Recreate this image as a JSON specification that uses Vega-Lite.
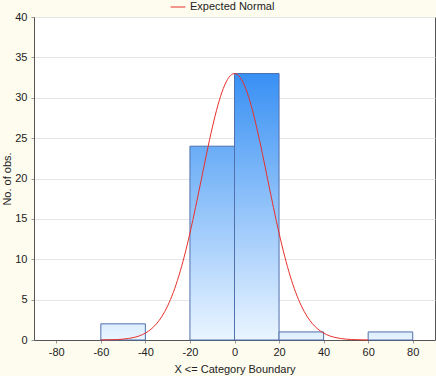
{
  "$schema": "https://vega.github.io/schema/vega-lite/v6.json",
  "autosize": "none",
  "width": 401,
  "height": 323,
  "padding": {"left": 34, "top": 17, "right": 1, "bottom": 36},
  "background": "#FEFCEF",
  "datasets": {
    "bins": [
      {"bin_start": -60, "bin_end": -40, "count": 2},
      {"bin_start": -20, "bin_end": 0, "count": 24},
      {"bin_start": 0, "bin_end": 20, "count": 33},
      {"bin_start": 20, "bin_end": 40, "count": 1},
      {"bin_start": 60, "bin_end": 80, "count": 1}
    ],
    "curve": [
      {"x": -60, "y": 0.009, "series": "Expected Normal"},
      {"x": -55, "y": 0.033, "series": "Expected Normal"},
      {"x": -50, "y": 0.11, "series": "Expected Normal"},
      {"x": -47.5, "y": 0.191, "series": "Expected Normal"},
      {"x": -45, "y": 0.324, "series": "Expected Normal"},
      {"x": -42.5, "y": 0.534, "series": "Expected Normal"},
      {"x": -40, "y": 0.855, "series": "Expected Normal"},
      {"x": -37.5, "y": 1.33, "series": "Expected Normal"},
      {"x": -35, "y": 2.01, "series": "Expected Normal"},
      {"x": -32.5, "y": 2.96, "series": "Expected Normal"},
      {"x": -30, "y": 4.23, "series": "Expected Normal"},
      {"x": -27.5, "y": 5.87, "series": "Expected Normal"},
      {"x": -25, "y": 7.92, "series": "Expected Normal"},
      {"x": -22.5, "y": 10.39, "series": "Expected Normal"},
      {"x": -20, "y": 13.24, "series": "Expected Normal"},
      {"x": -17.5, "y": 16.4, "series": "Expected Normal"},
      {"x": -15, "y": 19.74, "series": "Expected Normal"},
      {"x": -12.5, "y": 23.1, "series": "Expected Normal"},
      {"x": -10, "y": 26.27, "series": "Expected Normal"},
      {"x": -7.5, "y": 29.02, "series": "Expected Normal"},
      {"x": -5, "y": 31.17, "series": "Expected Normal"},
      {"x": -2.5, "y": 32.53, "series": "Expected Normal"},
      {"x": 0, "y": 33, "series": "Expected Normal"},
      {"x": 2.5, "y": 32.53, "series": "Expected Normal"},
      {"x": 5, "y": 31.17, "series": "Expected Normal"},
      {"x": 7.5, "y": 29.02, "series": "Expected Normal"},
      {"x": 10, "y": 26.27, "series": "Expected Normal"},
      {"x": 12.5, "y": 23.1, "series": "Expected Normal"},
      {"x": 15, "y": 19.74, "series": "Expected Normal"},
      {"x": 17.5, "y": 16.4, "series": "Expected Normal"},
      {"x": 20, "y": 13.24, "series": "Expected Normal"},
      {"x": 22.5, "y": 10.39, "series": "Expected Normal"},
      {"x": 25, "y": 7.92, "series": "Expected Normal"},
      {"x": 27.5, "y": 5.87, "series": "Expected Normal"},
      {"x": 30, "y": 4.23, "series": "Expected Normal"},
      {"x": 32.5, "y": 2.96, "series": "Expected Normal"},
      {"x": 35, "y": 2.01, "series": "Expected Normal"},
      {"x": 37.5, "y": 1.33, "series": "Expected Normal"},
      {"x": 40, "y": 0.855, "series": "Expected Normal"},
      {"x": 42.5, "y": 0.534, "series": "Expected Normal"},
      {"x": 45, "y": 0.324, "series": "Expected Normal"},
      {"x": 47.5, "y": 0.191, "series": "Expected Normal"},
      {"x": 50, "y": 0.11, "series": "Expected Normal"},
      {"x": 55, "y": 0.033, "series": "Expected Normal"},
      {"x": 60, "y": 0.009, "series": "Expected Normal"}
    ]
  },
  "encoding": {
    "x": {
      "type": "quantitative",
      "scale": {"domain": [-90, 90], "nice": false, "zero": false},
      "axis": {
        "title": "X <= Category Boundary",
        "values": [-80, -60, -40, -20, 0, 20, 40, 60, 80],
        "labelExpr": "toString(datum.value)",
        "grid": false,
        "tickSize": 3,
        "labelPadding": 3,
        "titlePadding": 6
      }
    },
    "y": {
      "type": "quantitative",
      "scale": {"domain": [0, 40], "nice": false},
      "axis": {
        "title": "No. of obs.",
        "values": [0, 5, 10, 15, 20, 25, 30, 35, 40],
        "grid": true,
        "tickSize": 3,
        "labelPadding": 4,
        "titlePadding": 2
      }
    }
  },
  "layer": [
    {
      "data": {"name": "bins"},
      "transform": [{"filter": "datum.count == 33"}],
      "mark": {
        "type": "bar",
        "stroke": "#5070AE",
        "strokeWidth": 1,
        "fill": {"gradient": "linear", "x1": 0, "y1": 0, "x2": 0, "y2": 1,
          "stops": [{"offset": 0, "color": "#3890F4"}, {"offset": 1, "color": "#EAF5FF"}]}
      },
      "encoding": {
        "x": {"field": "bin_start", "type": "quantitative"},
        "x2": {"field": "bin_end"},
        "y": {"field": "count", "type": "quantitative"},
        "y2": {"datum": 0}
      }
    },
    {
      "data": {"name": "bins"},
      "transform": [{"filter": "datum.count == 24"}],
      "mark": {
        "type": "bar",
        "stroke": "#5070AE",
        "strokeWidth": 1,
        "fill": {"gradient": "linear", "x1": 0, "y1": 0, "x2": 0, "y2": 1,
          "stops": [{"offset": 0, "color": "#69ACF7"}, {"offset": 1, "color": "#EAF5FF"}]}
      },
      "encoding": {
        "x": {"field": "bin_start", "type": "quantitative"},
        "x2": {"field": "bin_end"},
        "y": {"field": "count", "type": "quantitative"},
        "y2": {"datum": 0}
      }
    },
    {
      "data": {"name": "bins"},
      "transform": [{"filter": "datum.count < 5"}],
      "mark": {
        "type": "bar",
        "stroke": "#5070AE",
        "strokeWidth": 1,
        "fill": {"gradient": "linear", "x1": 0, "y1": 0, "x2": 0, "y2": 1,
          "stops": [{"offset": 0, "color": "#DCEDFE"}, {"offset": 1, "color": "#EAF5FF"}]}
      },
      "encoding": {
        "x": {"field": "bin_start", "type": "quantitative"},
        "x2": {"field": "bin_end"},
        "y": {"field": "count", "type": "quantitative"},
        "y2": {"datum": 0}
      }
    },
    {
      "data": {"name": "curve"},
      "mark": {"type": "line", "strokeWidth": 1, "interpolate": "monotone"},
      "encoding": {
        "x": {"field": "x", "type": "quantitative"},
        "y": {"field": "y", "type": "quantitative"},
        "color": {
          "field": "series",
          "type": "nominal",
          "scale": {"range": ["#E8302C"]},
          "legend": {
            "title": null,
            "orient": "none",
            "legendX": 136,
            "legendY": -18,
            "symbolType": "stroke",
            "symbolSize": 220,
            "symbolStrokeWidth": 1,
            "labelFontSize": 11,
            "labelFont": "Liberation Sans",
            "labelColor": "#222222"
          }
        }
      }
    }
  ],
  "config": {
    "view": {"stroke": "#555555", "strokeWidth": 1, "fill": "#FFFFFF"},
    "axis": {
      "labelFont": "Liberation Sans",
      "titleFont": "Liberation Sans",
      "labelFontSize": 11,
      "titleFontSize": 11,
      "titleFontWeight": "normal",
      "labelColor": "#222222",
      "titleColor": "#222222",
      "domainColor": "#555555",
      "tickColor": "#999999",
      "gridColor": "#E6E6E6"
    }
  }
}
